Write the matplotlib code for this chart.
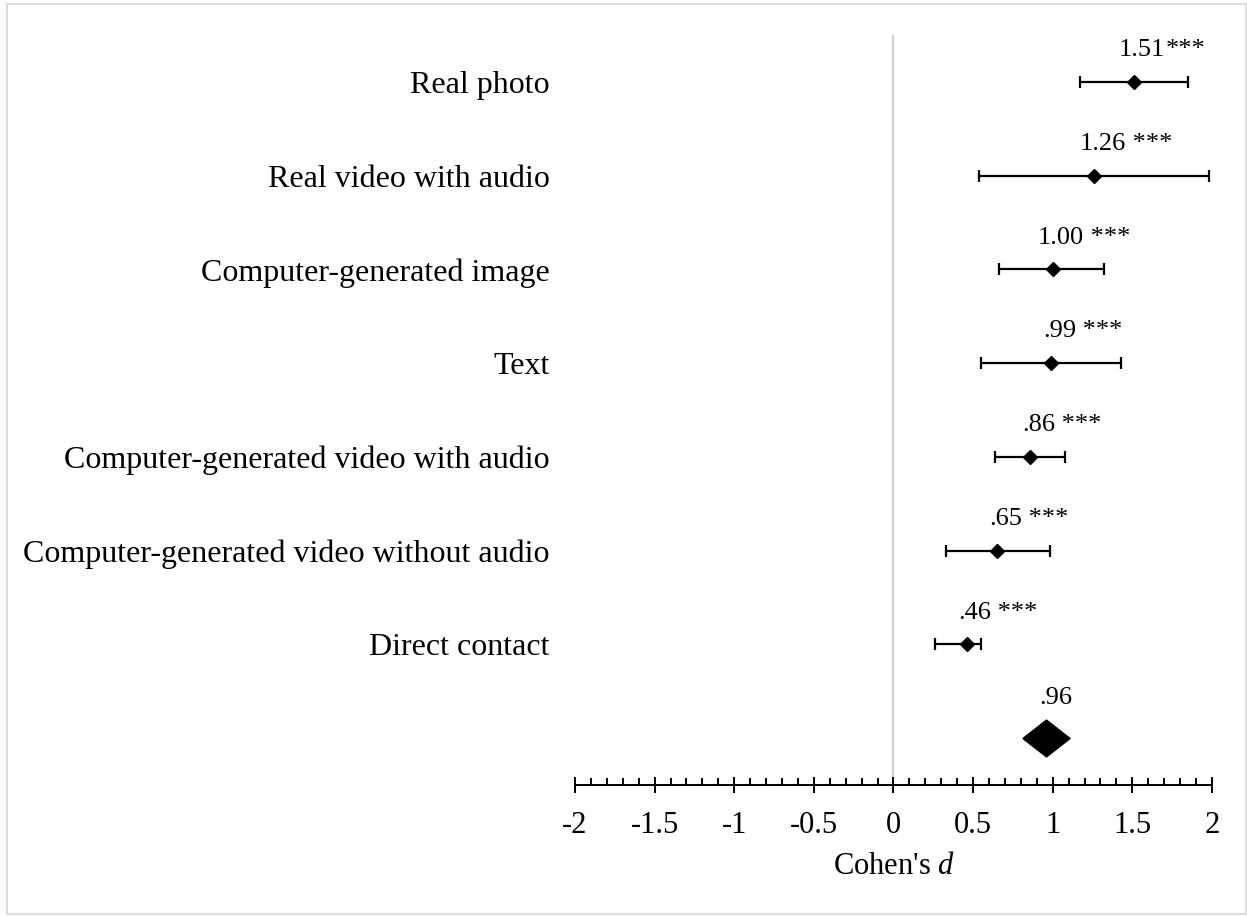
import matplotlib.pyplot as plt
from matplotlib.patches import Rectangle
from matplotlib.ticker import MultipleLocator, FuncFormatter

plt.rcParams['font.family'] = ['Liberation Serif', 'DejaVu Serif']
plt.rcParams['mathtext.fontset'] = 'custom'
plt.rcParams['mathtext.rm'] = 'Liberation Serif'
plt.rcParams['mathtext.it'] = 'Liberation Serif:italic'

# effect sizes per presentation format
formats = ['Real photo', 'Real video with audio', 'Computer-generated image', 'Text',
           'Computer-generated video with audio', 'Computer-generated video without audio',
           'Direct contact']
d = [1.51, 1.26, 1.00, 0.99, 0.86, 0.65, 0.46]
ci_low = [1.17, 0.54, 0.66, 0.55, 0.64, 0.33, 0.26]
ci_high = [1.85, 1.98, 1.32, 1.43, 1.08, 0.98, 0.55]
d_text = ['1.51', '1.26', '1.00', '.99', '.86', '.65', '.46']
stars = ['***', ' ***', ' ***', ' ***', ' ***', ' ***', ' ***']

# pooled estimate
overall_d = 0.96
overall_text = '.96'

fig = plt.figure(figsize=(12.47, 9.16), dpi=100)
ax = fig.add_axes([0.4611, 0.1430, 0.5108, 0.8188])

rows = list(range(len(formats)))
ax.axvline(0, color='#d0d0d0', lw=1.6, zorder=0)

err = [[v - lo for v, lo in zip(d, ci_low)], [hi - v for v, hi in zip(d, ci_high)]]
ax.errorbar(d, rows, xerr=err, fmt='D', color='black', ms=7, lw=1.6,
            capsize=4.5, capthick=1.6, zorder=3)

for y, v, t, s in zip(rows, d, d_text, stars):
    num = ax.annotate(t, (v, y), xytext=(6, 15), textcoords='offset points',
                      ha='center', va='bottom', fontsize=19)
    ax.annotate(s, xy=(1, 0), xycoords=num, ha='left', va='bottom', fontsize=19)

# pooled diamond
y_all = len(formats)
diamond = [(-1, 0), (0, 0.78), (1, 0), (0, -0.78), (-1, 0)]
ax.plot([overall_d], [y_all], marker=diamond, ms=34, color='black', ls='none')
ax.annotate(overall_text, (overall_d, y_all), xytext=(7, 21), textcoords='offset points',
            ha='center', va='bottom', fontsize=19)

ax.set_xlim(-2, 2)
ax.set_ylim(y_all + 0.5, -0.5)
ax.set_yticks(rows)
ax.set_yticklabels(formats, fontsize=23)
ax.tick_params(axis='y', length=0, pad=18)

ax.xaxis.set_major_locator(MultipleLocator(0.5))
ax.xaxis.set_minor_locator(MultipleLocator(0.1))
ax.xaxis.set_major_formatter(FuncFormatter(lambda v, p: ('%g' % v).replace('\u2212', '-')))
ax.tick_params(axis='x', which='major', direction='inout', length=11, width=1.4,
               labelsize=22, pad=13)
ax.tick_params(axis='x', which='minor', direction='in', length=5, width=1.4)
ax.set_xlabel("Cohen's $d$", fontsize=22, labelpad=9)

for side in ['left', 'right', 'top']:
    ax.spines[side].set_visible(False)
ax.spines['bottom'].set_linewidth(1.4)

fig.patches.append(Rectangle((7 / 1247, 2 / 916), 1239 / 1247, 910 / 916,
                             transform=fig.transFigure, fill=False,
                             edgecolor='#dcdcdc', lw=1.5))

fig.savefig('out.png', dpi=100)
